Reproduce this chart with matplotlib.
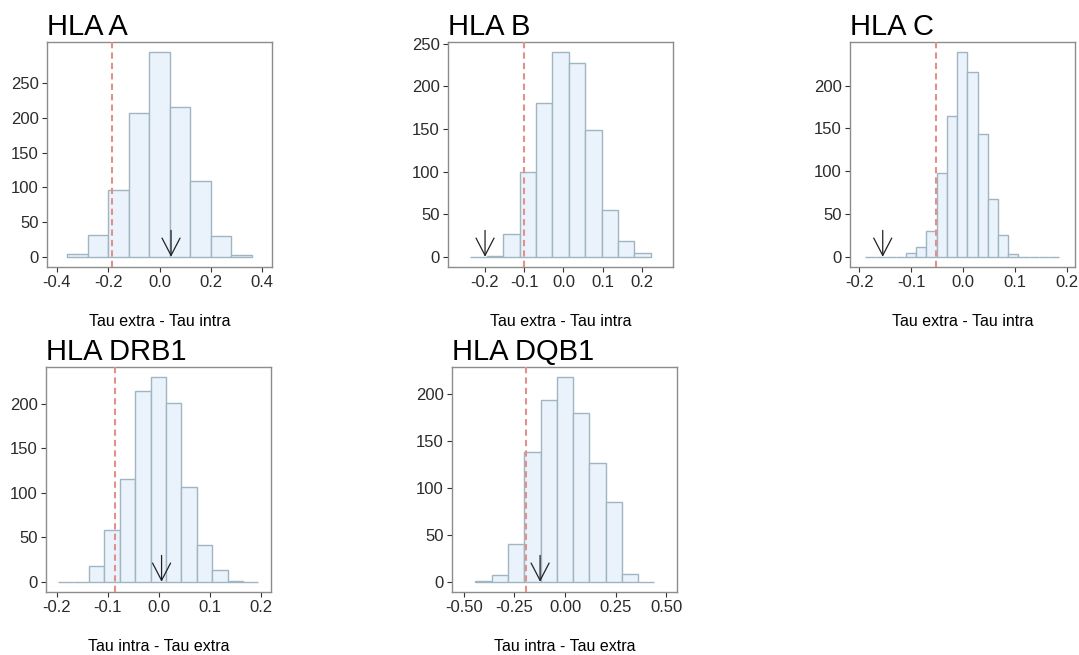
import numpy as np
import matplotlib
matplotlib.use('Agg')
from matplotlib import pyplot as plt

plt.rcParams['font.family'] = ['Liberation Sans', 'DejaVu Sans']
plt.rcParams['axes.unicode_minus'] = False

# パネルごとのデータ
titles = ['HLA A', 'HLA B', 'HLA C', 'HLA DRB1', 'HLA DQB1']
xlabels = ['Tau extra - Tau intra', 'Tau extra - Tau intra', 'Tau extra - Tau intra',
           'Tau intra - Tau extra', 'Tau intra - Tau extra']

bin_start = [-0.361, -0.236, -0.189, -0.197, -0.442]
bin_width = [0.0802, 0.0416, 0.01968, 0.0301, 0.0803]

counts_a = [4, 32, 97, 208, 295, 216, 110, 30, 3]
counts_b = [0, 1, 27, 100, 180, 240, 227, 149, 55, 18, 4]
counts_c = [0, 0, 0, 0, 4, 11, 30, 98, 164, 239, 216, 144, 67, 25, 3, 0, 0, 0, 0]
counts_drb1 = [0, 0, 18, 58, 116, 214, 230, 201, 107, 41, 13, 1, 0]
counts_dqb1 = [1, 7, 40, 138, 194, 218, 180, 127, 85, 8, 0]
counts = [counts_a, counts_b, counts_c, counts_drb1, counts_dqb1]

threshold = [-0.184, -0.099, -0.052, -0.087, -0.194]    # 赤い破線
observed = [0.045, -0.199, -0.155, 0.005, -0.123]        # 矢印

xlims = [(-0.439, 0.439), (-0.293, 0.278), (-0.218, 0.215), (-0.221, 0.219), (-0.558, 0.553)]
xticks = [[-0.4, -0.2, 0.0, 0.2, 0.4],
          [-0.2, -0.1, 0.0, 0.1, 0.2],
          [-0.2, -0.1, 0.0, 0.1, 0.2],
          [-0.2, -0.1, 0.0, 0.1, 0.2],
          [-0.5, -0.25, 0.0, 0.25, 0.5]]
xfmt = ['%.1f', '%.1f', '%.1f', '%.1f', '%.2f']
yticks = [[0, 50, 100, 150, 200, 250],
          [0, 50, 100, 150, 200, 250],
          [0, 50, 100, 150, 200],
          [0, 50, 100, 150, 200],
          [0, 50, 100, 150, 200]]

W, H = 1079, 655
# 各パネルの位置（ピクセル, 左・上）
boxes = [(47, 42), (448, 42), (850, 42), (46, 367), (452, 367)]
size = 225

fig = plt.figure(figsize=(W / 100, H / 100), dpi=100)

for i in range(5):
    left, top = boxes[i]
    ax = fig.add_axes([left / W, 1 - (top + size) / H, size / W, size / H])
    c = np.array(counts[i])
    edges = bin_start[i] + bin_width[i] * np.arange(len(c))
    ax.bar(edges, c, width=bin_width[i], align='edge',
           color='#EAF3FC', edgecolor='#A0B5C2', linewidth=1.0, zorder=2)
    ax.axvline(threshold[i], color='#E0918A', linestyle=(0, (3, 2)), linewidth=1.5, zorder=3)
    ax.annotate('', xy=(observed[i], 0), xytext=(0, 19), textcoords='offset points',
                arrowprops=dict(arrowstyle='->,head_length=1.25,head_width=0.65',
                                mutation_scale=10, lw=0.9, color='#222222',
                                shrinkA=0, shrinkB=0), zorder=4)
    ymax = c.max()
    ax.set_ylim(-0.05 * ymax, 1.05 * ymax)
    ax.set_xlim(*xlims[i])
    ax.set_xticks(xticks[i])
    ax.set_xticklabels([xfmt[i] % v for v in xticks[i]])
    ax.set_yticks(yticks[i])
    ax.tick_params(labelsize=12, length=3.5, width=0.8, color='#333333',
                   labelcolor='#2B2B2B', pad=2.5)
    for s in ax.spines.values():
        s.set_color('#8C8C8C')
        s.set_linewidth(1.0)
    ax.set_xlabel(xlabels[i], fontsize=11.5, labelpad=17)
    ax.set_title(titles[i], loc='left', fontsize=21, pad=5)

plt.savefig('out.png', dpi=100)
